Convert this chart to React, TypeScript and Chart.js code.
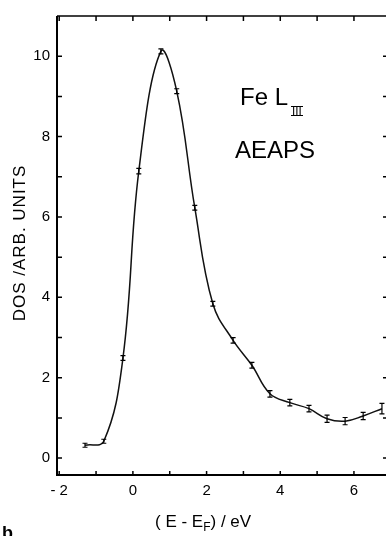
import React, { useEffect, useRef } from "react";
import { Chart, registerables } from "chart.js";

Chart.register(...registerables);

// Measured points (E - E_F in eV, DOS in arb. units) with error-bar half heights
const energy = [-1.30, -0.79, -0.27, 0.16, 0.76, 1.19, 1.68, 2.17, 2.72, 3.23, 3.72, 4.26, 4.78, 5.27, 5.76, 6.25, 6.76];
const dos = [0.32, 0.42, 2.49, 7.14, 10.12, 9.13, 6.23, 3.84, 2.93, 2.31, 1.60, 1.38, 1.23, 0.98, 0.92, 1.05, 1.23];
const errors = [0.05, 0.05, 0.06, 0.07, 0.06, 0.06, 0.06, 0.06, 0.07, 0.07, 0.08, 0.08, 0.08, 0.09, 0.09, 0.09, 0.13];

const xTickValues = [-2, -1, 0, 1, 2, 3, 4, 5, 6];
const xTickLabels = ["- 2", "", "0", "", "2", "", "4", "", "6"];
const yTickValues = [0, 1, 2, 3, 4, 5, 6, 7, 8, 9, 10];
const yTickLabels = ["0", "", "2", "", "4", "", "6", "", "8", "", "10"];

const FONT = "'Liberation Sans', Arial, sans-serif";

const framePlugin = {
  id: "frame",
  afterDraw(chart: any) {
    const ctx = chart.ctx as CanvasRenderingContext2D;
    const { left, right, top, bottom } = chart.chartArea;
    const xs = chart.scales.x;
    const ys = chart.scales.y;
    ctx.save();
    ctx.strokeStyle = "#000";
    ctx.fillStyle = "#000";
    // spines
    ctx.lineWidth = 2;
    ctx.beginPath();
    ctx.moveTo(left, top);
    ctx.lineTo(left, bottom);
    ctx.lineTo(right, bottom);
    ctx.stroke();
    ctx.lineWidth = 1.6;
    ctx.beginPath();
    ctx.moveTo(left, top);
    ctx.lineTo(right, top);
    ctx.stroke();
    // ticks
    ctx.lineWidth = 1.5;
    ctx.beginPath();
    xTickValues.forEach((v) => {
      const px = xs.getPixelForValue(v);
      ctx.moveTo(px, bottom);
      ctx.lineTo(px, bottom - 4);
      ctx.moveTo(px, top);
      ctx.lineTo(px, top + 5);
    });
    yTickValues.forEach((v) => {
      const py = ys.getPixelForValue(v);
      ctx.moveTo(left, py);
      ctx.lineTo(left + 5, py);
      ctx.moveTo(right, py);
      ctx.lineTo(right - 3, py);
    });
    ctx.stroke();
    // error bars
    ctx.lineWidth = 1.2;
    ctx.beginPath();
    energy.forEach((e, i) => {
      const px = xs.getPixelForValue(e);
      const y1 = ys.getPixelForValue(dos[i] - errors[i]);
      const y2 = ys.getPixelForValue(dos[i] + errors[i]);
      ctx.moveTo(px, y1);
      ctx.lineTo(px, y2);
      ctx.moveTo(px - 2.5, y1);
      ctx.lineTo(px + 2.5, y1);
      ctx.moveTo(px - 2.5, y2);
      ctx.lineTo(px + 2.5, y2);
    });
    ctx.stroke();

    // texts
    ctx.textBaseline = "alphabetic";
    ctx.textAlign = "left";
    ctx.font = `24px ${FONT}`;
    ctx.fillText("Fe L", 240, 105);
    ctx.font = `11px 'DejaVu Sans', sans-serif`;
    ctx.fillText("III", 292, 115);
    ctx.lineWidth = 1;
    ctx.beginPath();
    ctx.moveTo(291, 106.5);
    ctx.lineTo(303, 106.5);
    ctx.moveTo(291, 115.5);
    ctx.lineTo(303, 115.5);
    ctx.stroke();
    ctx.font = `24px ${FONT}`;
    ctx.fillText("AEAPS", 235, 158);

    // x title with subscript
    ctx.font = `17px ${FONT}`;
    let x = 155;
    const base = 527;
    const part1 = "( E - E";
    ctx.fillText(part1, x, base);
    x += ctx.measureText(part1).width;
    ctx.font = `12px ${FONT}`;
    ctx.fillText("F", x, base + 4);
    x += ctx.measureText("F").width;
    ctx.font = `17px ${FONT}`;
    ctx.fillText(") / eV", x, base);

    // y title
    ctx.save();
    ctx.translate(25, 243);
    ctx.rotate(-Math.PI / 2);
    ctx.textAlign = "center";
    ctx.font = `17px ${FONT}`;
    (ctx as any).letterSpacing = "1px";
    ctx.fillText("DOS /ARB. UNITS", 0, 0);
    ctx.restore();

    // panel label
    ctx.font = `bold 18px ${FONT}`;
    ctx.fillText("b", 2, 539);
    ctx.restore();
  },
};

export default function App() {
  const ref = useRef<HTMLCanvasElement | null>(null);
  useEffect(() => {
    if (!ref.current) return;
    const chart = new Chart(ref.current, {
      type: "line",
      data: {
        datasets: [
          {
            data: energy.map((e, i) => ({ x: e, y: dos[i] })),
            borderColor: "#111",
            borderWidth: 1.5,
            pointRadius: 0,
            tension: 0.4,
            fill: false,
          },
        ],
      },
      options: {
        animation: false,
        responsive: false,
        maintainAspectRatio: false,
        layout: { padding: { top: 12, right: 0, left: 0, bottom: 0 } },
        plugins: { legend: { display: false }, tooltip: { enabled: false } },
        scales: {
          x: {
            type: "linear",
            min: -2.06,
            max: 6.87,
            grid: { display: false, drawTicks: false },
            border: { display: false },
            afterBuildTicks: (s: any) => {
              s.ticks = xTickValues.map((v) => ({ value: v }));
            },
            afterFit: (s: any) => {
              s.height = 61;
            },
            ticks: {
              autoSkip: false,
              maxRotation: 0,
              padding: 7,
              color: "#000",
              font: { family: FONT, size: 15 },
              callback: (_v: any, i: number) => xTickLabels[i],
            },
          },
          y: {
            type: "linear",
            min: -0.42,
            max: 11.0,
            grid: { display: false, drawTicks: false },
            border: { display: false },
            afterBuildTicks: (s: any) => {
              s.ticks = yTickValues.map((v) => ({ value: v }));
            },
            afterFit: (s: any) => {
              s.width = 57;
            },
            ticks: {
              autoSkip: false,
              padding: 7,
              color: "#000",
              font: { family: FONT, size: 15 },
              callback: (_v: any, i: number) => yTickLabels[i],
            },
          },
        },
      },
      plugins: [framePlugin],
    });
    return () => chart.destroy();
  }, []);
  return (
    <div style={{ position: "fixed", left: 0, top: 0, width: 386, height: 536, background: "#fff", overflow: "hidden" }}>
      <canvas ref={ref} width={386} height={536} style={{ display: "block" }} />
    </div>
  );
}
